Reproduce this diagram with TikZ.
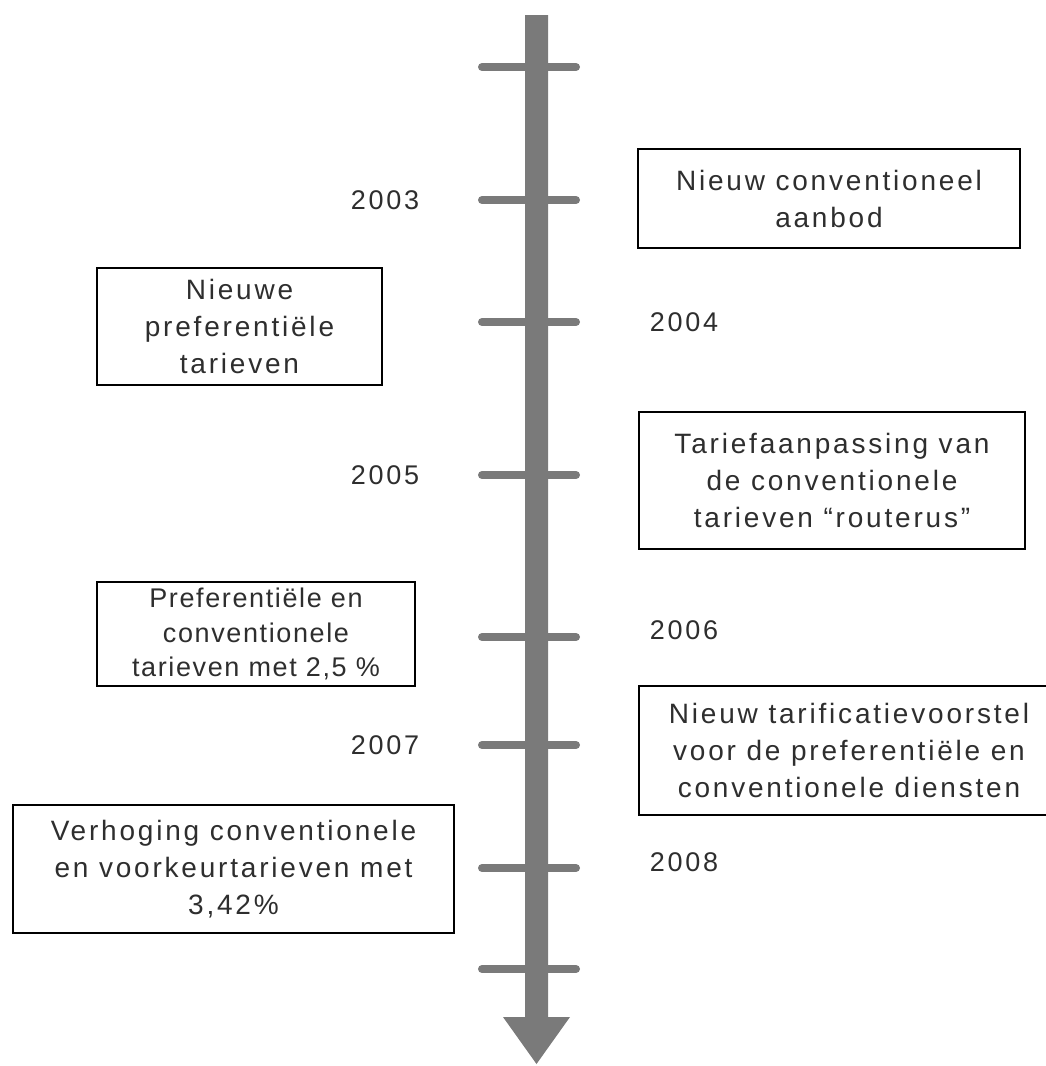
\documentclass[tikz,border=0pt]{standalone}
\usepackage{fontspec}
\setmainfont{Liberation Sans}
\newfontfamily\widefont[LetterSpace=10]{Liberation Sans}
\newfontfamily\midfont[LetterSpace=6]{Liberation Sans}
\definecolor{shaft}{HTML}{7A7A7A}
\definecolor{txt}{HTML}{2E2E2E}
\begin{document}
\begin{tikzpicture}[x=1pt,y=-1pt,
  evbox/.style={draw=black,line width=1.4pt,fill=white,text=txt,align=center,
    font=\widefont\fontsize{28}{37}\selectfont,inner sep=0pt},
  smallbox/.style={evbox,font=\midfont\fontsize{27}{34.5}\selectfont},
  year/.style={text=txt,font=\widefont\fontsize{27}{30}\selectfont,inner sep=0pt},
  tick/.style={draw=shaft,line width=8pt,line cap=round}]
\useasboundingbox (0,0) rectangle (1045,1066);
% shaft with arrowhead
\fill[shaft] (525,15) -- (548,15) -- (548,1017) -- (570,1017) -- (536.5,1064)
  -- (503,1017) -- (525,1017) -- cycle;
% ticks
\foreach \y in {67,200,322,475,637,745,868,969}
  \draw[tick] (482,\y) -- (576,\y);
% year labels
\node[year] (y2003) at (385,200) {2003};
\node[year] (y2004) at (684,322) {2004};
\node[year] (y2005) at (385,475) {2005};
\node[year] (y2006) at (684,630) {2006};
\node[year] (y2007) at (385,745) {2007};
\node[year] (y2008) at (684,862) {2008};
% event boxes
\node[evbox,minimum width=382pt,minimum height=99pt] (b1) at (829,198.5)
  {Nieuw conventioneel\\aanbod};
\node[evbox,minimum width=285pt,minimum height=117pt] (b2) at (239.5,326.5)
  {Nieuwe\\preferentiële\\tarieven};
\node[evbox,minimum width=386pt,minimum height=137pt] (b3) at (832,480.5)
  {Tariefaanpassing van\\de conventionele\\tarieven “routerus”};
\node[smallbox,minimum width=318pt,minimum height=104pt] (b4) at (256,634)
  {Preferentiële en\\conventionele\\tarieven met 2,5 \%};
\node[evbox,minimum width=420pt,minimum height=129pt] (b5) at (849,750.5)
  {Nieuw tarificatievoorstel\\voor de preferentiële en\\conventionele diensten};
\node[evbox,minimum width=441pt,minimum height=128pt] (b6) at (233.5,869)
  {Verhoging conventionele\\en voorkeurtarieven met\\3,42\%};
\end{tikzpicture}
\end{document}
